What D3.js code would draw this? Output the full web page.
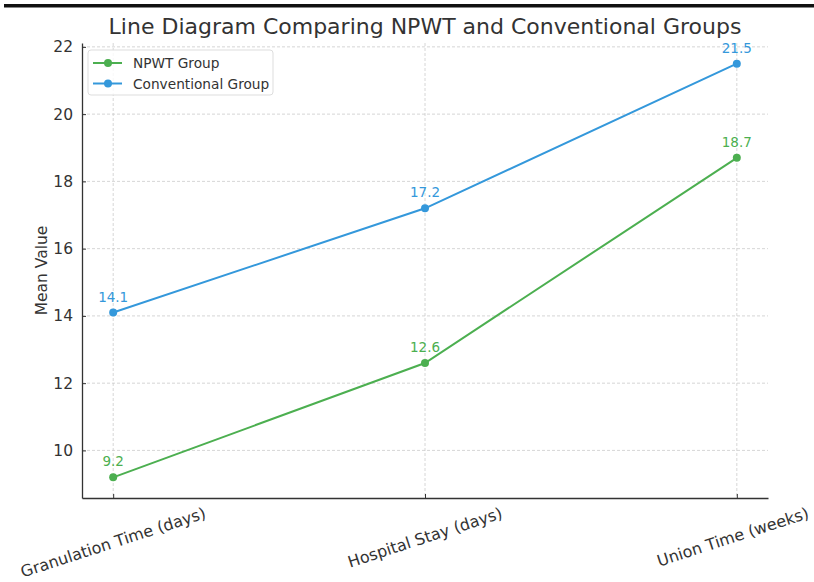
<!DOCTYPE html>
<html>
<head>
<meta charset="utf-8">
<script src="https://cdn.jsdelivr.net/npm/d3@7"></script>
<style>
  html, body { margin: 0; padding: 0; background: #fff; }
  svg { display: block; font-family: "DejaVu Sans", sans-serif; }
</style>
</head>
<body>
<svg id="chart" width="814" height="582"></svg>
<script>
const categories = ["Granulation Time (days)", "Hospital Stay (days)", "Union Time (weeks)"];
const npwtValues = [9.2, 12.6, 18.7];
const conventionalValues = [14.1, 17.2, 21.5];
const yTicks = [10, 12, 14, 16, 18, 20, 22];
const seriesNames = ["NPWT Group", "Conventional Group"];
const chartTitle = "Line Diagram Comparing NPWT and Conventional Groups";
const yLabel = "Mean Value";

(function () {
const colors = { npwt: "#4caf50", conv: "#3498db" };

const svg = d3.select("#chart");
const W = 814;
const pL = 82, pR = 768, pT = 43, pB = 498;

// top border bar
svg.append("rect").attr("x", 4).attr("y", 4).attr("width", W - 4).attr("height", 3.5).attr("fill", "#111");

const x = d3.scalePoint().domain(categories).range([pL, pR]).padding(0.1);
const allVals = npwtValues.concat(conventionalValues);
const mn = d3.min(allVals), mx = d3.max(allVals), m = (mx - mn) * 0.05;
const y = d3.scaleLinear().domain([mn - m, mx + m]).range([pB, pT]);

// grid
const grid = svg.append("g").attr("stroke", "#cccccc").attr("stroke-width", 0.8).attr("stroke-dasharray", "3,2");
yTicks.forEach(t => grid.append("line").attr("x1", pL).attr("x2", pR).attr("y1", y(t)).attr("y2", y(t)));
categories.forEach(c => grid.append("line").attr("x1", x(c)).attr("x2", x(c)).attr("y1", pT).attr("y2", pB));

// axes
const yAxis = svg.append("g").attr("transform", `translate(${pL},0)`)
  .call(d3.axisLeft(y).tickValues(yTicks).tickSizeInner(-4).tickSizeOuter(0).tickPadding(9));
yAxis.select(".domain").attr("stroke", "#333").attr("stroke-width", 1.3);
yAxis.selectAll(".tick line").attr("stroke", "#333").attr("stroke-width", 1);
yAxis.selectAll(".tick text").attr("font-size", 15.5).attr("fill", "#333").attr("font-family", "DejaVu Sans");

const xAxis = svg.append("g").attr("transform", `translate(0,${pB})`)
  .call(d3.axisBottom(x).tickSizeInner(-4).tickSizeOuter(0).tickFormat(""));
xAxis.select(".domain").attr("stroke", "#333").attr("stroke-width", 1.3);
xAxis.selectAll(".tick line").attr("stroke", "#333").attr("stroke-width", 1);

// rotated x labels
const angle = 18, rad = angle * Math.PI / 180;
categories.forEach(c => {
  const t = svg.append("text").text(c).attr("font-size", 16).attr("fill", "#333")
    .attr("text-anchor", "middle").attr("dominant-baseline", "central");
  const w = t.node().getComputedTextLength();
  const h = 18;
  const bh = w * Math.sin(rad) + h * Math.cos(rad);
  const bw = w * Math.cos(rad) + h * Math.sin(rad);
  const cx = Math.min(x(c), 811 - bw / 2);
  t.attr("transform", `translate(${cx},${pB + 6 + bh / 2}) rotate(${-angle})`);
});

// y label
svg.append("text").text(yLabel).attr("font-size", 15.5).attr("fill", "#333")
  .attr("text-anchor", "middle")
  .attr("transform", `translate(47,${(pT + pB) / 2}) rotate(-90)`);

// title
svg.append("text").text(chartTitle).attr("x", (pL + pR) / 2).attr("y", 34)
  .attr("text-anchor", "middle").attr("font-size", 22).attr("fill", "#333");

// series
const series = [
  { name: seriesNames[0], values: npwtValues, color: colors.npwt },
  { name: seriesNames[1], values: conventionalValues, color: colors.conv }
];
const line = d3.line().x((d, i) => x(categories[i])).y(d => y(d));
series.forEach(s => {
  svg.append("path").datum(s.values).attr("d", line).attr("fill", "none")
    .attr("stroke", s.color).attr("stroke-width", 2);
  svg.selectAll(null).data(s.values).enter().append("circle")
    .attr("cx", (d, i) => x(categories[i])).attr("cy", d => y(d)).attr("r", 4).attr("fill", s.color);
  svg.selectAll(null).data(s.values).enter().append("text")
    .attr("x", (d, i) => x(categories[i])).attr("y", d => y(d) - 11)
    .attr("text-anchor", "middle").attr("font-size", 13.5).attr("fill", s.color)
    .text(d => d3.format(".1f")(d));
});

// legend
const lg = svg.append("g");
lg.append("rect").attr("x", 88).attr("y", 50).attr("width", 185).attr("height", 45).attr("rx", 3)
  .attr("fill", "#fff").attr("fill-opacity", 0.8).attr("stroke", "#dddddd").attr("stroke-width", 1);
series.forEach((s, i) => {
  const cy = 63 + i * 20.5;
  lg.append("line").attr("x1", 93).attr("x2", 122).attr("y1", cy).attr("y2", cy)
    .attr("stroke", s.color).attr("stroke-width", 2);
  lg.append("circle").attr("cx", 108).attr("cy", cy).attr("r", 4).attr("fill", s.color);
  lg.append("text").text(s.name).attr("x", 133).attr("y", cy).attr("dominant-baseline", "central")
    .attr("font-size", 13.7).attr("fill", "#333");
});
})();
</script>
</body>
</html>
